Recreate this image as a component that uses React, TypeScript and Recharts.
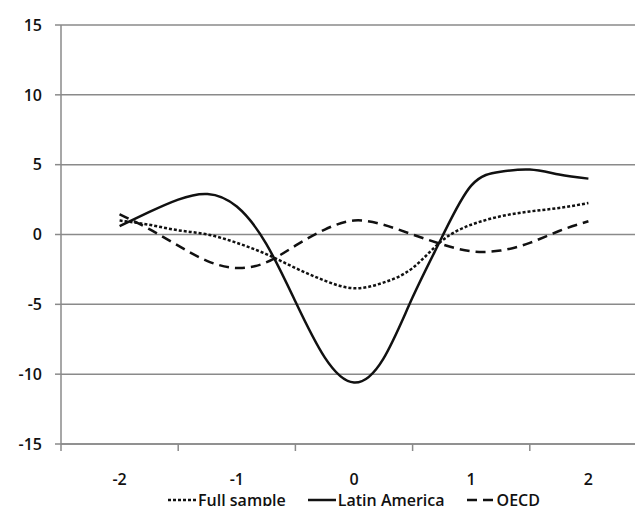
import React from 'react';
import { LineChart, Line, XAxis, YAxis, CartesianGrid, Legend } from 'recharts';

// x positions (quarter steps between the labelled categories)
const xValues = [-2, -1.75, -1.5, -1.25, -1, -0.75, -0.5, -0.25, 0, 0.25, 0.5, 0.75, 1, 1.25, 1.5, 1.75, 2];
const fullSample = [1.0, 0.7, 0.3, 0.0, -0.6, -1.4, -2.4, -3.3, -3.85, -3.45, -2.4, -0.45, 0.7, 1.3, 1.65, 1.9, 2.25];
const latinAmerica = [0.6, 1.6, 2.5, 2.9, 2.0, -0.65, -4.8, -8.8, -10.6, -8.9, -4.5, -0.2, 3.5, 4.5, 4.65, 4.3, 4.0];
const oecd = [1.45, 0.4, -0.8, -1.9, -2.4, -2.0, -0.8, 0.35, 1.0, 0.7, 0.0, -0.7, -1.2, -1.15, -0.6, 0.25, 0.95];

const xTicks = [-2.5, -2, -1.5, -1, -0.5, 0, 0.5, 1, 1.5, 2, 2.5];
const yTicks = [-15, -10, -5, 0, 5, 10, 15];

const FONT = '"Open Sans", Lato, sans-serif';
const GRID = '#8a8a8a';
const INK = '#111';

const data = xValues.map((x, i) => ({
    x,
    full: fullSample[i],
    latin: latinAmerica[i],
    oecd: oecd[i],
}));

const series = [
    { key: 'full', name: 'Full sample', dash: '3 2' },
    { key: 'latin', name: 'Latin America', dash: undefined },
    { key: 'oecd', name: 'OECD', dash: '10 6' },
];

// integer values get a label, half values get a small tick mark (excel-style category ticks)
const XTick = (props: any) => {
    const { x, y, payload } = props;
    const v = payload.value;
    if (Number.isInteger(v)) {
        return (
            <text x={x} y={y + 35} textAnchor="middle" dominantBaseline="central"
                fontFamily={FONT} fontSize={16} fontWeight={600} fill={INK}>
                {v}
            </text>
        );
    }
    return <line x1={x} y1={y} x2={x} y2={y + 7} stroke={GRID} strokeWidth={1.5} />;
};

const LegendContent = () => (
    <div style={{ display: 'flex', justifyContent: 'center', alignItems: 'center', fontFamily: FONT, fontSize: 16, fontWeight: 600, color: INK, lineHeight: '20px' }}>
        {series.map((s, i) => (
            <div key={s.key} style={{ display: 'flex', alignItems: 'center', marginLeft: i === 0 ? 0 : 22 }}>
                <svg width={28} height={10} style={{ marginRight: 2 }}>
                    <line x1={0} y1={5} x2={28} y2={5} stroke={INK} strokeWidth={2.5} strokeDasharray={s.dash} />
                </svg>
                <span>{s.name}</span>
            </div>
        ))}
    </div>
);

export default function App() {
    return (
        <div style={{ margin: -8, width: 643, height: 514, overflow: 'hidden', background: '#fff' }}>
            <LineChart width={660} height={514} data={data} margin={{ top: 25, right: 13, left: 0, bottom: 0 }}>
                <CartesianGrid vertical={false} stroke={GRID} strokeWidth={1.5} />
                <XAxis
                    dataKey="x"
                    type="number"
                    domain={[-2.5, 2.5]}
                    ticks={xTicks}
                    interval={0}
                    tick={<XTick />}
                    tickLine={false}
                    tickSize={0}
                    tickMargin={0}
                    height={50}
                    axisLine={{ stroke: GRID, strokeWidth: 1.5 }}
                />
                <YAxis
                    domain={[-15, 15]}
                    ticks={yTicks}
                    width={61}
                    tickSize={6}
                    tickMargin={13}
                    axisLine={{ stroke: GRID, strokeWidth: 1.5 }}
                    tickLine={{ stroke: GRID, strokeWidth: 1.5 }}
                    tick={{ fontFamily: FONT, fontSize: 16, fontWeight: 600, fill: INK }}
                />
                <Legend
                    content={<LegendContent />}
                    wrapperStyle={{ position: 'absolute', top: 490, left: 61, width: 586, height: 20 }}
                />
                {series.map((s) => (
                    <Line
                        key={s.key}
                        dataKey={s.key}
                        name={s.name}
                        type="natural"
                        stroke={INK}
                        strokeWidth={2.5}
                        strokeDasharray={s.dash}
                        dot={false}
                        isAnimationActive={false}
                    />
                ))}
            </LineChart>
        </div>
    );
}
